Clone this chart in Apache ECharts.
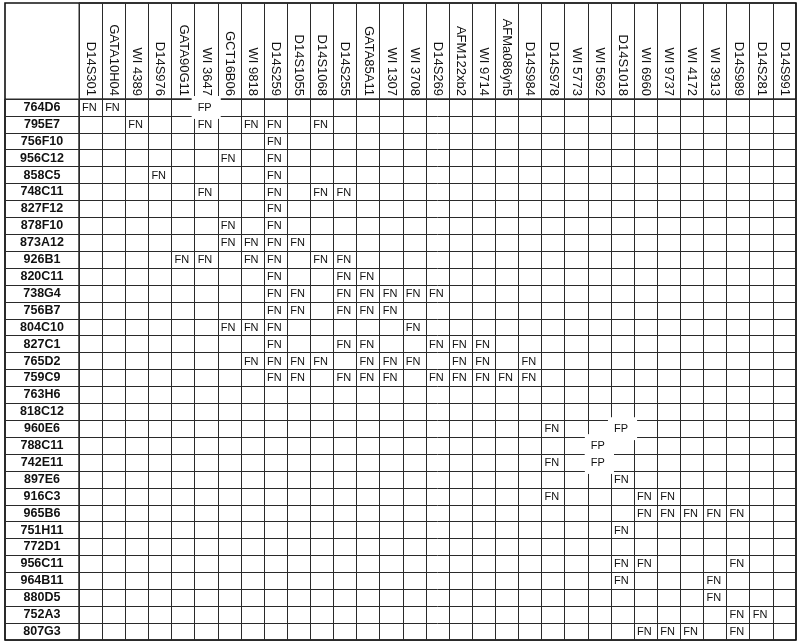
<!DOCTYPE html>
<html>
<head>
<meta charset="utf-8">
<script src="https://cdn.jsdelivr.net/npm/echarts@6/dist/echarts.min.js"></script>
<style>
html,body{margin:0;padding:0;background:#fff;}
#chart{width:800px;height:644px;}
</style>
</head>
<body>
<div id="chart"></div>
<script>
const markers = ['D14S301','GATA10H04','WI 4389','D14S976','GATA90G11','WI 3647','GCT16B06','WI 9818','D14S259','D14S1055','D14S1068','D14S255','GATA85A11','WI 1307','WI 3708','D14S269','AFM122xb2','WI 9714','AFMa086yh5','D14S984','D14S978','WI 5773','WI 5692','D14S1018','WI 6960','WI 9737','WI 4172','WI 3913','D14S989','D14S281','D14S991'];

const clones = ['764D6','795E7','756F10','956C12','858C5','748C11','827F12','878F10','873A12','926B1','820C11','738G4','756B7','804C10','827C1','765D2','759C9','763H6','818C12','960E6','788C11','742E11','897E6','916C3','965B6','751H11','772D1','956C11','964B11','880D5','752A3','807G3'];

// False negatives: [clone, marker]
const fnCells = [
  ['764D6','D14S301'],['764D6','GATA10H04'],
  ['795E7','WI 4389'],['795E7','WI 3647'],['795E7','WI 9818'],['795E7','D14S259'],['795E7','D14S1068'],
  ['756F10','D14S259'],
  ['956C12','GCT16B06'],['956C12','D14S259'],
  ['858C5','D14S976'],['858C5','D14S259'],
  ['748C11','WI 3647'],['748C11','D14S259'],['748C11','D14S1068'],['748C11','D14S255'],
  ['827F12','D14S259'],
  ['878F10','GCT16B06'],['878F10','D14S259'],
  ['873A12','GCT16B06'],['873A12','WI 9818'],['873A12','D14S259'],['873A12','D14S1055'],
  ['926B1','GATA90G11'],['926B1','WI 3647'],['926B1','WI 9818'],['926B1','D14S259'],['926B1','D14S1068'],['926B1','D14S255'],
  ['820C11','D14S259'],['820C11','D14S255'],['820C11','GATA85A11'],
  ['738G4','D14S259'],['738G4','D14S1055'],['738G4','D14S255'],['738G4','GATA85A11'],['738G4','WI 1307'],['738G4','WI 3708'],['738G4','D14S269'],
  ['756B7','D14S259'],['756B7','D14S1055'],['756B7','D14S255'],['756B7','GATA85A11'],['756B7','WI 1307'],
  ['804C10','GCT16B06'],['804C10','WI 9818'],['804C10','D14S259'],['804C10','WI 3708'],
  ['827C1','D14S259'],['827C1','D14S255'],['827C1','GATA85A11'],['827C1','D14S269'],['827C1','AFM122xb2'],['827C1','WI 9714'],
  ['765D2','WI 9818'],['765D2','D14S259'],['765D2','D14S1055'],['765D2','D14S1068'],['765D2','GATA85A11'],['765D2','WI 1307'],['765D2','WI 3708'],['765D2','AFM122xb2'],['765D2','WI 9714'],['765D2','D14S984'],
  ['759C9','D14S259'],['759C9','D14S1055'],['759C9','D14S255'],['759C9','GATA85A11'],['759C9','WI 1307'],['759C9','D14S269'],['759C9','AFM122xb2'],['759C9','WI 9714'],['759C9','AFMa086yh5'],['759C9','D14S984'],
  ['960E6','D14S978'],
  ['742E11','D14S978'],
  ['897E6','D14S1018'],
  ['916C3','D14S978'],['916C3','WI 6960'],['916C3','WI 9737'],
  ['965B6','WI 6960'],['965B6','WI 9737'],['965B6','WI 4172'],['965B6','WI 3913'],['965B6','D14S989'],
  ['751H11','D14S1018'],
  ['956C11','D14S1018'],['956C11','WI 6960'],['956C11','D14S989'],
  ['964B11','D14S1018'],['964B11','WI 3913'],
  ['880D5','WI 3913'],
  ['752A3','D14S989'],['752A3','D14S281'],
  ['807G3','WI 6960'],['807G3','WI 9737'],['807G3','WI 4172'],['807G3','D14S989']
];

// False positives: [clone, marker]
const fpCells = [
  ['764D6','WI 3647'],
  ['960E6','D14S1018'],
  ['788C11','WI 5692'],
  ['742E11','WI 5692']
];

const FONT = "'Liberation Sans', Arial, Helvetica, sans-serif";
const LINE = '#2a2a2a';

const fnData = fnCells.map(c => [c[1], c[0]]);
const fpData = fpCells.map(c => [c[1], c[0]]);

function cellRenderer(label, erase) {
  return function (params, api) {
    const x = api.value(0), y = api.value(1);
    const c = api.coord([x, y]);
    const s = api.size([1, 1]);
    const left = c[0] - s[0] / 2, top = c[1] - s[1] / 2;
    const children = [];
    if (erase) {
      children.push({
        type: 'rect',
        shape: { x: left - 3, y: top - 3, width: s[0] + 6, height: s[1] + 6 },
        style: { fill: '#fff' }
      });
    }
    children.push({
      type: 'text',
      style: {
        text: label, x: left + 3, y: c[1] + 0.5,
        fill: '#111', font: '11px ' + FONT,
        align: 'left', verticalAlign: 'middle'
      }
    });
    return { type: 'group', children: children };
  };
}

const chart = echarts.init(document.getElementById('chart'), null, { renderer: 'canvas' });

const option = {
  backgroundColor: '#fff',
  animation: false,
  grid: [
    { left: 79, top: 99, right: 4, bottom: 4, show: true, borderColor: LINE, borderWidth: 1 },   // cells
    { left: 5, top: 99, width: 74, bottom: 4, show: true, borderColor: LINE, borderWidth: 1 },   // clone labels column
    { left: 79, top: 3, right: 4, height: 96, show: true, borderColor: LINE, borderWidth: 1 },   // header
    { left: 5, top: 3, right: 4, bottom: 4, show: true, borderColor: '#111', borderWidth: 1.6 }  // outer frame
  ],
  xAxis: [
    {
      gridIndex: 0, type: 'category', data: markers, position: 'top', boundaryGap: true,
      axisLine: { show: false }, axisTick: { show: false },
      axisLabel: { interval: 0, rotate: 90, margin: 3, fontSize: 13, fontFamily: FONT, color: '#111' },
      splitLine: { show: true, interval: 0, lineStyle: { color: LINE, width: 1 } }
    },
    { gridIndex: 1, type: 'value', show: false, min: 0, max: 1 },
    {
      gridIndex: 2, type: 'category', data: markers, boundaryGap: true,
      axisLine: { show: false }, axisTick: { show: false }, axisLabel: { show: false },
      splitLine: { show: true, interval: 0, lineStyle: { color: LINE, width: 1 } }
    },
    { gridIndex: 3, type: 'value', show: false, min: 0, max: 1 }
  ],
  yAxis: [
    {
      gridIndex: 0, type: 'category', data: clones, inverse: true, boundaryGap: true,
      axisLine: { show: false }, axisTick: { show: false },
      axisLabel: { interval: 0, margin: 37, align: 'center', fontSize: 12.5, fontWeight: 'bold', fontFamily: FONT, color: '#111' },
      splitLine: { show: true, interval: 0, lineStyle: { color: LINE, width: 1 } }
    },
    {
      gridIndex: 1, type: 'category', data: clones, inverse: true, boundaryGap: true,
      axisLine: { show: false }, axisTick: { show: false }, axisLabel: { show: false },
      splitLine: { show: true, interval: 0, lineStyle: { color: LINE, width: 1 } }
    },
    { gridIndex: 2, type: 'value', show: false, min: 0, max: 1 },
    { gridIndex: 3, type: 'value', show: false, min: 0, max: 1 }
  ],
  series: [
    {
      name: 'FN', type: 'custom', xAxisIndex: 0, yAxisIndex: 0,
      data: fnData, encode: { x: 0, y: 1 },
      renderItem: cellRenderer('FN', false), z: 5
    },
    {
      name: 'FP', type: 'custom', xAxisIndex: 0, yAxisIndex: 0,
      data: fpData, encode: { x: 0, y: 1 },
      renderItem: cellRenderer('FP', true), z: 6
    }
  ]
};

chart.setOption(option);
</script>
</body>
</html>
